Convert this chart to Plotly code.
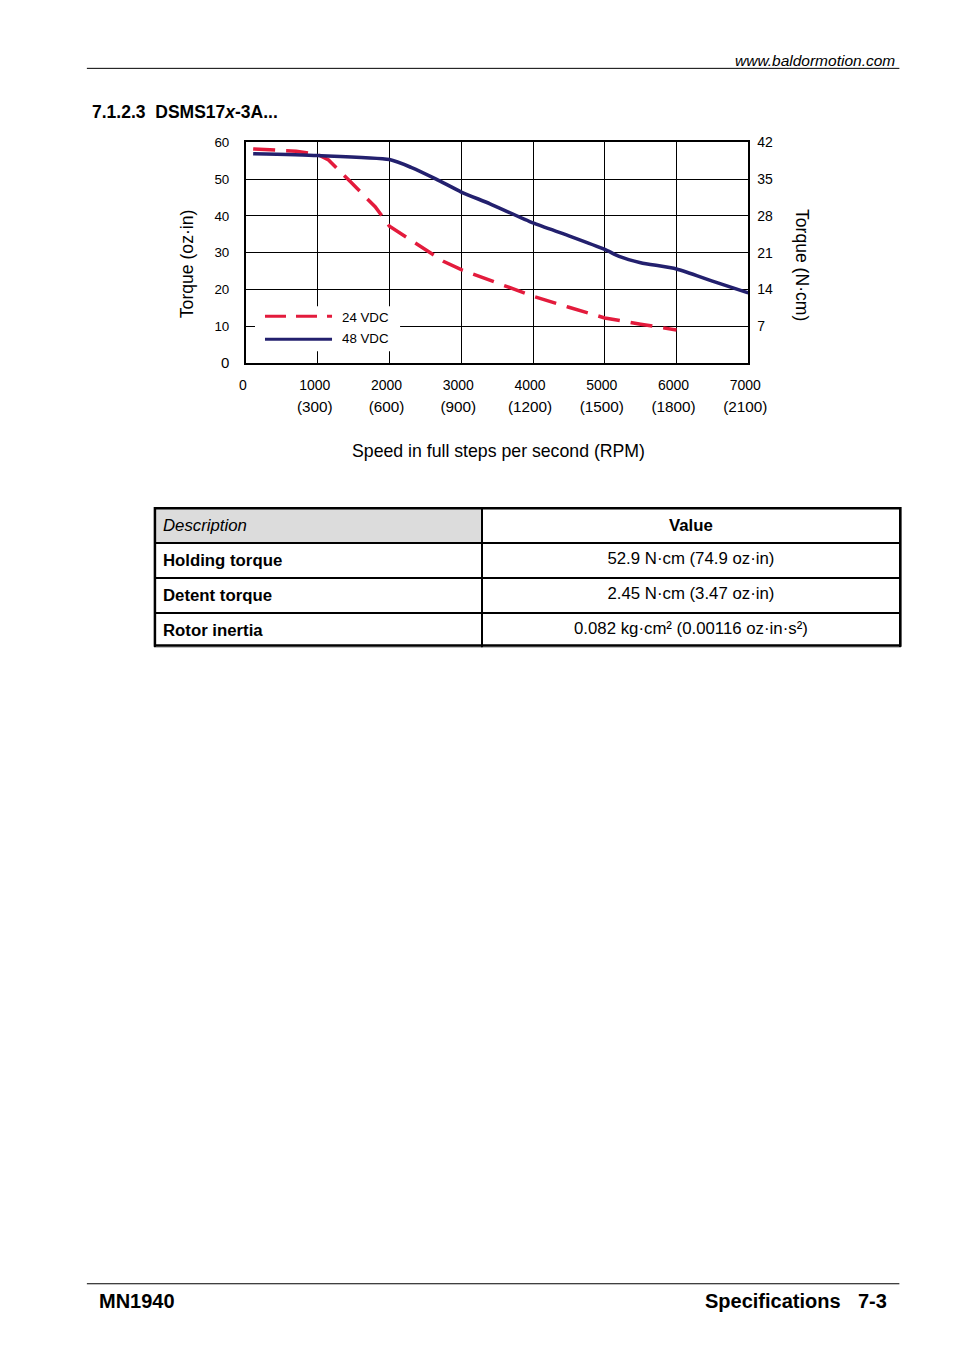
import plotly.graph_objects as go

# ---------------- data ----------------
speed_24 = [100, 700, 1000, 1150, 1450, 1800, 2000, 2400, 2750, 3000, 3400, 4000, 4500, 5000, 5500, 6000]
torque_24 = [58.2, 57.6, 56.7, 55.2, 49.4, 42.5, 37.2, 32.2, 27.7, 25.4, 22.6, 18.2, 15.2, 12.3, 10.6, 9.0]

speed_48 = [100, 1000, 2000, 2300, 2650, 3000, 3400, 4000, 4500, 5000, 5200, 5500, 6000, 6500, 7000]
torque_48 = [56.9, 56.4, 55.3, 53.2, 50.0, 46.5, 43.3, 38.1, 34.6, 30.9, 29.0, 27.3, 25.6, 22.3, 19.1]

x_tickvals = [0, 1000, 2000, 3000, 4000, 5000, 6000, 7000]
x_steps = ["0", "1000", "2000", "3000", "4000", "5000", "6000", "7000"]
x_rpm = ["", "(300)", "(600)", "(900)", "(1200)", "(1500)", "(1800)", "(2100)"]
y_left_ticks = [0, 10, 20, 30, 40, 50, 60]
y_right_ticks = [7, 14, 21, 28, 35, 42]

table_desc = ["<b>Holding torque</b>", "<b>Detent torque</b>", "<b>Rotor inertia</b>"]
table_value = ["52.9 N·cm (74.9 oz·in)", "2.45 N·cm (3.47 oz·in)",
               "0.082 kg·cm² (0.00116 oz·in·s²)"]

# ---------------- layout helpers ----------------
W, H = 938, 1336
# measured mapping between figure pixels and the photographed page
SX, OX = 0.9717, 15.6
SY, OY = 0.9885, 14.8
FONT = "Liberation Sans, Arial, sans-serif"
NAVY = "#23206e"
RED = "#e31b3c"
TABLE_FONT = 16.8
TABLE_BOTTOM = 644.5


def px(x):
    return (x / SX - OX) / W


def py(y):
    return 1 - (y / SY - OY) / H


x_ticktext = [f"<span style='font-size:14px'>{s}</span>" if not r else
              f"<span style='font-size:14px'>{s}</span><br><span style='font-size:15.3px'>{r}</span>"
              for s, r in zip(x_steps, x_rpm)]
y_ticktext = [f"<span style='font-size:15px'>{v}</span>" if v == 0 else str(v) for v in y_left_ticks]

fig = go.Figure()
fig.add_trace(go.Scatter(x=speed_24, y=torque_24, mode="lines", name="24 VDC",
                         line=dict(color=RED, width=3.5, dash="22px,11px"),
                         showlegend=False))
fig.add_trace(go.Scatter(x=speed_48, y=torque_48, mode="lines", name="48 VDC",
                         line=dict(color=NAVY, width=3.6, shape="spline", smoothing=0.6),
                         showlegend=False))
fig.add_trace(go.Scatter(x=[None], y=[None], yaxis="y2", showlegend=False, hoverinfo="skip"))

fig.add_trace(go.Table(
    domain=dict(x=[px(155), px(900)], y=[py(TABLE_BOTTOM + 2), py(507)]),
    columnwidth=[327, 418],
    header=dict(values=["<i>Description</i>", "<b>Value</b>"],
                align=["left", "center"],
                fill=dict(color=["#dcdcdc", "white"]),
                line=dict(color="black", width=2),
                font=dict(family=FONT, size=TABLE_FONT, color="black"),
                height=34),
    cells=dict(values=[table_desc, table_value],
               align=["left", "center"],
               fill=dict(color="white"),
               line=dict(color="black", width=2),
               font=dict(family=FONT, size=TABLE_FONT, color="black"),
               height=34),
))

fig.update_layout(
    width=W, height=H,
    margin=dict(l=0, r=0, t=0, b=0),
    paper_bgcolor="white", plot_bgcolor="white",
    font=dict(family=FONT, color="black"),
    xaxis=dict(domain=[px(246), px(748)], range=[0, 7000],
               tickvals=x_tickvals, ticktext=x_ticktext,
               showline=True, mirror=True, linecolor="black", linewidth=2,
               showgrid=True, gridcolor="black", gridwidth=1, zeroline=False,
               ticks="", ticklabelstandoff=4, ticklabelshift=-3,
               tickfont=dict(size=17, color="black")),
    yaxis=dict(domain=[py(362), py(141)], range=[0, 60],
               tickvals=y_left_ticks, ticktext=y_ticktext,
               showline=True, mirror=True, linecolor="black", linewidth=2,
               showgrid=True, gridcolor="black", gridwidth=1, zeroline=False,
               ticks="", ticklabelstandoff=12,
               tickfont=dict(size=13.4, color="black")),
    yaxis2=dict(overlaying="y", side="right", range=[0, 42],
                tickvals=y_right_ticks, showgrid=False, showline=False, zeroline=False,
                ticks="", ticklabelstandoff=8,
                tickfont=dict(size=14, color="black")),
)

# decorations: page rules, legend box and keys
shapes = [
    dict(type="line", xref="paper", yref="paper", x0=px(87), x1=px(899), y0=py(67), y1=py(67),
         line=dict(color="black", width=1)),
    dict(type="line", xref="paper", yref="paper", x0=px(87), x1=px(899), y0=py(1283), y1=py(1283),
         line=dict(color="black", width=1)),
    dict(type="rect", xref="paper", yref="paper", x0=px(255), x1=px(400), y0=py(350), y1=py(305),
         fillcolor="white", line=dict(width=0), layer="above"),
    dict(type="line", xref="paper", yref="paper", x0=px(265), x1=px(332), y0=py(315), y1=py(315),
         line=dict(color=RED, width=3, dash="21px,10px"), layer="above"),
    dict(type="line", xref="paper", yref="paper", x0=px(265), x1=px(332), y0=py(338), y1=py(338),
         line=dict(color=NAVY, width=3), layer="above"),
    dict(type="rect", xref="paper", yref="paper", x0=px(155), x1=px(900), y0=py(TABLE_BOTTOM), y1=py(507),
         line=dict(color="black", width=2.5), layer="above"),
]
fig.update_layout(shapes=shapes)

ann = [
    dict(text="<i>www.baldormotion.com</i>", x=px(897), y=py(59), xanchor="right", yanchor="middle",
         font=dict(size=15.5)),
    dict(text="<b>7.1.2.3\u00a0\u00a0DSMS17<i>x</i>-3A...</b>", x=px(90), y=py(111),
         xanchor="left", yanchor="middle", font=dict(size=17.5)),
    dict(text="Torque (oz·in)", x=px(187), y=py(262), textangle=-90, xanchor="center",
         yanchor="middle", font=dict(size=17.6)),
    dict(text="Torque (N·cm)", x=px(801), y=py(264), textangle=90, xanchor="center",
         yanchor="middle", font=dict(size=17.6)),
    dict(text="Speed in full steps per second (RPM)", x=px(498), y=py(450), xanchor="center",
         yanchor="middle", font=dict(size=17.7)),
    dict(text="24 VDC", x=px(340), y=py(316), xanchor="left", yanchor="middle", font=dict(size=13.3)),
    dict(text="48 VDC", x=px(340), y=py(337), xanchor="left", yanchor="middle", font=dict(size=13.3)),
    dict(text="<b>MN1940</b>", x=px(97), y=py(1300), xanchor="left", yanchor="middle", font=dict(size=20)),
    dict(text="<b>Specifications</b>", x=px(843), y=py(1300), xanchor="right", yanchor="middle",
         font=dict(size=20)),
    dict(text="<b>7-3</b>", x=px(889), y=py(1300), xanchor="right", yanchor="middle", font=dict(size=20)),
]
for a in ann:
    a.update(xref="paper", yref="paper", showarrow=False)
    a.setdefault("font", {})
    a["font"].setdefault("color", "black")
    a["font"].setdefault("family", FONT)
fig.update_layout(annotations=ann)

fig.write_html("out.html")
